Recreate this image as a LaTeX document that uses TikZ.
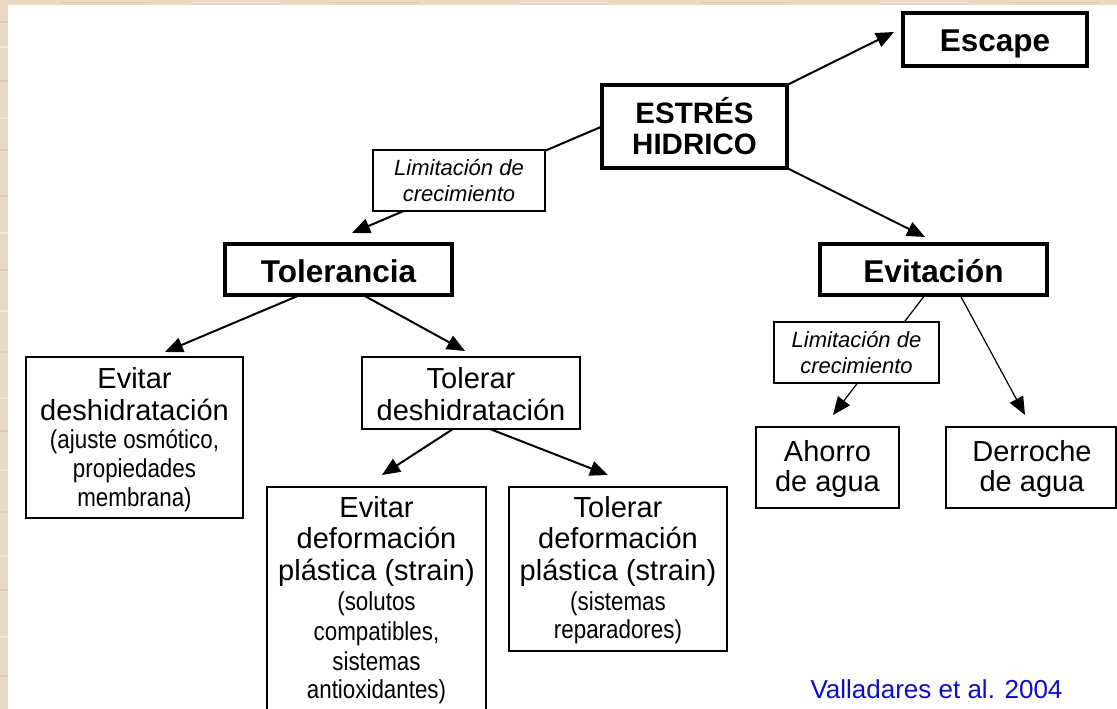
\documentclass[tikz,border=0pt]{standalone}
\usepackage{fontspec}
\setmainfont{Liberation Sans}
\newfontfamily\narrowsans[FakeStretch=0.86]{Liberation Sans}
\usetikzlibrary{arrows.meta,calc}
\definecolor{beige}{RGB}{234,216,198}
\definecolor{beigedark}{RGB}{222,200,178}
\definecolor{beigelight}{RGB}{242,228,214}
\definecolor{refblue}{RGB}{12,12,204}
\tikzset{
  boxthick/.style={draw=black, line width=3.5pt, fill=white, inner sep=0pt, outer sep=0pt},
  boxthin/.style={draw=black, line width=2pt, fill=white, inner sep=0pt, outer sep=0pt},
  boxlim/.style={draw=black, line width=1.5pt, fill=white, inner sep=0pt, outer sep=0pt},
  txt/.style={anchor=base, inner sep=0pt, outer sep=0pt, text=black},
  tbold/.style={txt, font=\fontsize{31.5}{31.5}\selectfont\bfseries},
  tbolds/.style={txt, font=\fontsize{29.5}{29.5}\selectfont\bfseries},
  tmain/.style={txt, font=\fontsize{29}{29}\selectfont},
  tsmall/.style={txt, font=\narrowsans\fontsize{26}{26}\selectfont},
  tital/.style={txt, font=\fontsize{22}{22}\selectfont\itshape},
  arrthick/.style={line width=2pt, -{Triangle[length=18pt,width=15pt]}},
  arrthin/.style={line width=1.2pt, -{Triangle[length=18pt,width=15pt]}},
  grain/.style={line width=1.5pt},
}
\begin{document}
\begin{tikzpicture}[x=1pt,y=-1pt]
\useasboundingbox (0,0) rectangle (1117,709);
\clip (0,0) rectangle (1117,709);
% background
\fill[beige] (0,0) rectangle (1117,709);
\foreach \yy/\cc in {22/beigedark,47/beigelight,81/beigedark,118/beigelight,150/beigedark,
  196/beigedark,233/beigelight,270/beigedark,311/beigelight,352/beigedark,398/beigelight,
  431/beigedark,470/beigelight,512/beigedark,556/beigelight,590/beigedark,637/beigelight,676/beigedark}
  \draw[grain, \cc] (0,\yy) -- (8,\yy);
\foreach \xx/\cc in {60/beigedark,190/beigelight,330/beigedark,520/beigelight,700/beigedark,880/beigelight,1010/beigedark}
  \draw[line width=1pt, \cc] (\xx,2.5) -- ++(90,0);
\fill[white] (8,5) rectangle (1117,709);

% main boxes
\node[boxthick, minimum width=184pt, minimum height=53pt] (esc) at (995,39.5) {};
\node[boxthick, minimum width=185pt, minimum height=83pt] (est) at (694.5,126.5) {};
\node[boxthick, minimum width=227pt, minimum height=51pt] (tol) at (338.5,269.5) {};
\node[boxthick, minimum width=227pt, minimum height=51pt] (evi) at (933.5,269.5) {};
\node[boxthin, minimum width=217pt, minimum height=161pt] (evdes) at (134.5,437.5) {};
\node[boxthin, minimum width=218pt, minimum height=72pt] (toldes) at (471,393) {};
\node[boxthin, minimum width=219pt, minimum height=243pt] (evdef) at (376.5,608.5) {};
\node[boxthin, minimum width=218pt, minimum height=164pt] (toldef) at (618,569) {};
\node[boxthin, minimum width=143pt, minimum height=81pt] (aho) at (827.5,467.5) {};
\node[boxthin, minimum width=170pt, minimum height=81pt] (der) at (1030.5,467.5) {};

% connectors
\draw[arrthick] (est.north east) -- ($(esc.west)+(-9,-7.5)$);
\draw[arrthick] (est.west) -- ($(tol.north)+(13.5,-11)$);
\draw[arrthick] (est.south east) -- ($(evi.north)+(-8.5,-7)$);
\draw[arrthick] ($(tol.south)+(-38.5,0)$) -- ($(evdes.north)+(30.5,-5)$);
\draw[arrthick] ($(tol.south)+(24.5,0)$) -- ($(toldes.north)+(-6,-6)$);
\draw[arrthick] ($(toldes.south)+(-18,0)$) -- ($(evdef.north)+(5.5,-12)$);
\draw[arrthick] ($(toldes.south)+(19,0)$) -- ($(toldef.north)+(-10,-12)$);
\draw[arrthin] ($(evi.south)+(-8.5,0)$) -- ($(aho.north)+(5.5,-12)$);
\draw[arrthin] ($(evi.south)+(26.5,0)$) -- ($(der.north)+(-5.5,-12)$);

% label boxes on connectors
\node[boxlim, minimum width=172pt, minimum height=61pt] (lim1) at (459,180.5) {};
\node[boxlim, minimum width=165pt, minimum height=61pt] (lim2) at (856.5,352.5) {};

% texts
\node[tbold] (esc-t) at (995,52) {Escape};
\node[tbolds] (est-t1) at (694.5,123) {ESTRÉS};
\node[tbolds] (est-t2) at (694.5,154) {HIDRICO};
\node[tbold] (tol-t) at (338.5,282) {Tolerancia};
\node[tbold] (evi-t) at (933.5,282) {Evitación};

\node[tital] (lim1-t1) at (459,175) {Limitación de};
\node[tital] (lim1-t2) at (459,201) {crecimiento};
\node[tital] (lim2-t1) at (856.5,347) {Limitación de};
\node[tital] (lim2-t2) at (856.5,373) {crecimiento};

\node[tmain] (evdes-t1) at (134.5,388) {Evitar};
\node[tmain] (evdes-t2) at (134.5,420) {deshidratación};
\node[tsmall] (evdes-t3) at (134.5,448) {(ajuste osmótico,};
\node[tsmall] (evdes-t4) at (134.5,477) {propiedades};
\node[tsmall] (evdes-t5) at (134.5,506) {membrana)};

\node[tmain] (toldes-t1) at (471,388) {Tolerar};
\node[tmain] (toldes-t2) at (471,420) {deshidratación};

\node[tmain] (evdef-t1) at (376.5,517) {Evitar};
\node[tmain] (evdef-t2) at (376.5,548) {deformación};
\node[tmain] (evdef-t3) at (376.5,580) {plástica (strain)};
\node[tsmall] (evdef-t4) at (376.5,610) {(solutos};
\node[tsmall] (evdef-t5) at (376.5,640) {compatibles,};
\node[tsmall] (evdef-t6) at (376.5,670) {sistemas};
\node[tsmall] (evdef-t7) at (376.5,698) {antioxidantes)};

\node[tmain] (toldef-t1) at (618,517) {Tolerar};
\node[tmain] (toldef-t2) at (618,548) {deformación};
\node[tmain] (toldef-t3) at (618,580) {plástica (strain)};
\node[tsmall] (toldef-t4) at (618,610) {(sistemas};
\node[tsmall] (toldef-t5) at (618,638) {reparadores)};

\node[tmain] (aho-t1) at (827.5,461) {Ahorro};
\node[tmain] (aho-t2) at (827.5,491) {de agua};
\node[tmain] (der-t1) at (1032,461) {Derroche};
\node[tmain] (der-t2) at (1032,491) {de agua};

\node[txt, text=refblue, font=\fontsize{26}{26}\selectfont] (ref) at (936.5,698) {Valladares et al. 2004};
\end{tikzpicture}
\end{document}
